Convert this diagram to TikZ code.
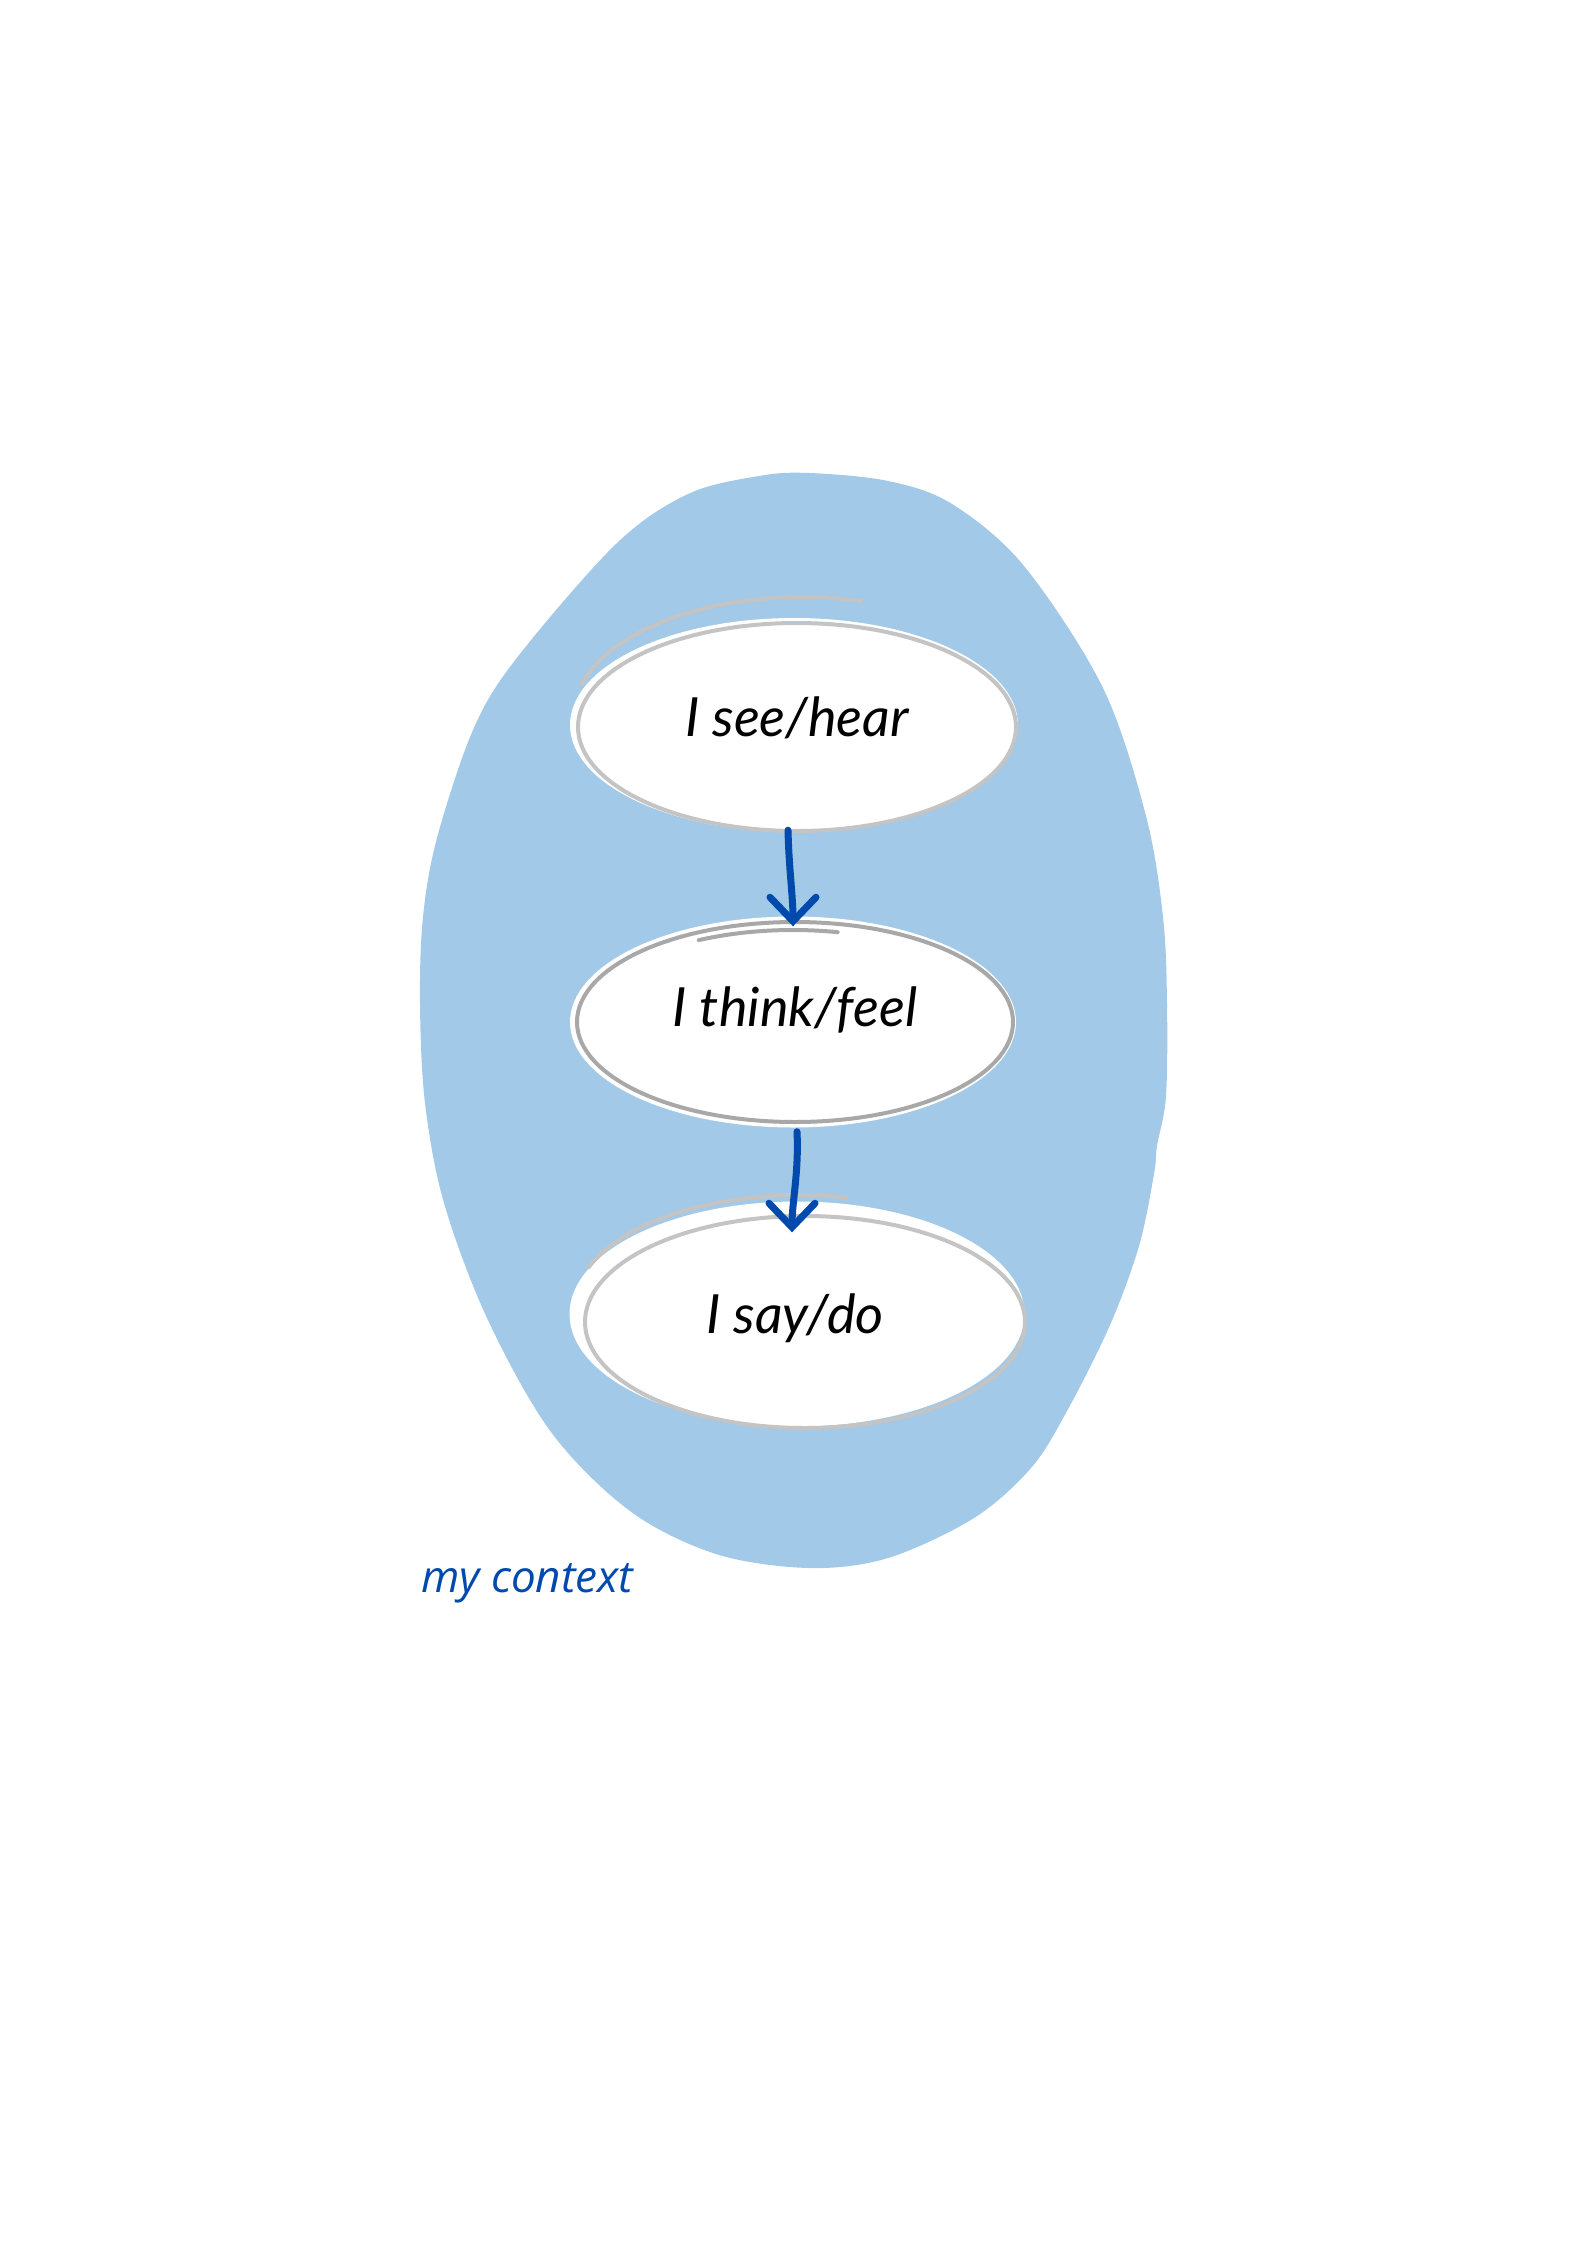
\documentclass[tikz,border=0pt]{standalone}
\usepackage{fontspec}
\setmainfont{Lato}
\newfontfamily\ctxfont{Open Sans}
\usetikzlibrary{shapes.geometric,arrows.meta}
\definecolor{blob}{HTML}{A2C9E7}
\definecolor{arrblue}{HTML}{004AAD}
\definecolor{lgray}{HTML}{C4C4C4}
\definecolor{dgray}{HTML}{A8A8A8}
\begin{document}
\begin{tikzpicture}[x=1pt,y=-1pt,
  bubble/.style={ellipse,fill=white,inner sep=0pt},
  lbl/.style={font=\fontsize{54}{60}\selectfont\itshape},
  sketch/.style={line width=4pt,line cap=round},
  arr/.style={arrblue,line width=7pt,line cap=round,-{Straight Barb[length=24pt,width=46pt,line width=7pt,line cap=round]}}]
\useasboundingbox (0,0) rectangle (1587,2245);
\fill[white] (0,0) rectangle (1587,2245);
% context blob
\fill[blob] plot[smooth cycle,tension=0.55] coordinates {
 (809,473) (888,481) (952,504) (1024,566) (1103,688) (1146,816) (1163,917)
 (1167,1003) (1166,1096) (1157,1146) (1154,1174) (1139,1246) (1110,1325)
 (1067,1411) (1031,1468) (974,1518) (888,1558) (809,1568) (716,1554)
 (630,1511) (551,1432) (487,1318) (444,1203) (425,1103) (420,1003)
 (423,917) (437,838) (473,730) (516,659) (616,544) (688,494) (759,476)};
% bubbles
\node[bubble,minimum width=448pt,minimum height=214pt] (see) at (794,725) {};
\node[bubble,minimum width=446pt,minimum height=211pt] (think) at (793,1022) {};
\node[bubble,minimum width=455pt,minimum height=225pt] (say) at (797,1314) {};
% sketchy outlines
\draw[lgray,sketch] (797,727) ellipse [x radius=219pt,y radius=104pt];
\draw[lgray,sketch] (802,715) ++(165:228pt and 118pt) arc [start angle=165,end angle=75,x radius=228pt,y radius=118pt];
\draw[dgray,sketch] (795,1022) ellipse [x radius=218pt,y radius=100pt];
\draw[dgray,sketch] (793,1030) ++(116:215pt and 100pt) arc [start angle=116,end angle=78,x radius=215pt,y radius=100pt];
\draw[lgray,sketch] (805,1322) ellipse [x radius=220pt,y radius=106pt];
\draw[lgray,sketch] (800,1305) ++(160:225pt and 110pt) arc [start angle=160,end angle=78,x radius=225pt,y radius=110pt];
% labels
\node[lbl] (t1) at (797,718) {I see/hear};
\node[lbl] (t2) at (795,1010) {I think/feel};
\node[lbl] (t3) at (795,1318) {I say/do};
\node[font=\fontsize{44}{50}\selectfont\ctxfont\itshape,text=arrblue,anchor=base west,inner sep=0pt] (ctx) at (421,1592) {my context};
% arrows
\draw[arr] ([xshift=-6pt,yshift=2pt]see.south) .. controls +(1,40) and +(0,-30) .. ([yshift=-10pt]think.north);
\draw[arr] ([xshift=4pt,yshift=-4pt]think.south) .. controls +(2,40) and +(0,-30) .. ([xshift=-5pt,yshift=-31pt]say.north);
\end{tikzpicture}
\end{document}
